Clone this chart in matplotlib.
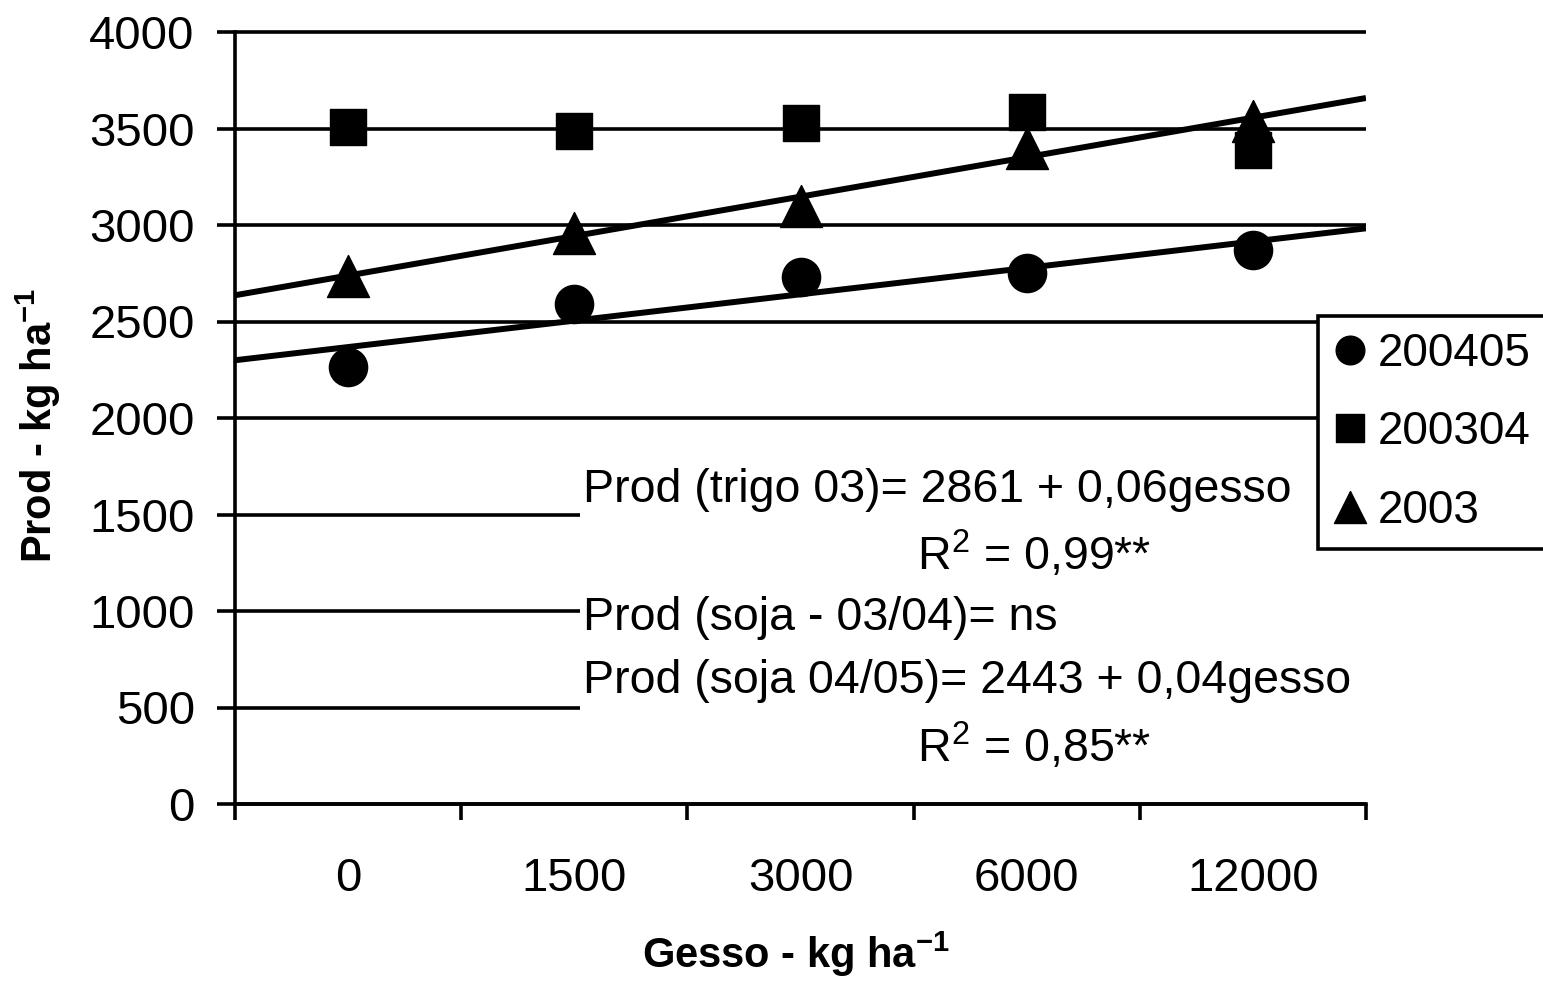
import numpy as np
import matplotlib
matplotlib.use("Agg")
import matplotlib.pyplot as plt
from matplotlib.markers import MarkerStyle
from matplotlib.patches import Rectangle

plt.rcParams["font.family"] = ["Liberation Sans", "DejaVu Sans"]
plt.rcParams["mathtext.default"] = "regular"

# gesso doses (categorical axis)
doses = ["0", "1500", "3000", "6000", "12000"]

# yield, kg/ha
soja_0405 = [2266, 2591, 2728, 2750, 2870]   # 200405
soja_0304 = [3507, 3486, 3527, 3587, 3387]   # 200304
trigo_03 = [2737, 2960, 3100, 3398, 3540]    # 2003
series_labels = ["200405", "200304", "2003"]

y_ticks = [0, 500, 1000, 1500, 2000, 2500, 3000, 3500, 4000]

eq_lines = [
    "Prod (trigo 03)= 2861 + 0,06gesso",
    "R$^2$ = 0,99**",
    "Prod (soja - 03/04)= ns",
    "Prod (soja 04/05)= 2443 + 0,04gesso",
    "R$^2$ = 0,85**",
]

W, H = 1543, 982


def px(x, y):
    return x / W, 1 - y / H


fig = plt.figure(figsize=(W / 100, H / 100), dpi=100)
ax = fig.add_axes([235 / W, 1 - 804 / H, 1131 / W, 772 / H])

lw = 2.6
x = np.arange(1, len(doses) + 1)

ax.set_xlim(0.5, len(doses) + 0.5)
ax.set_ylim(0, 4000)
ax.set_yticks(y_ticks)
ax.set_xticks(x)
ax.set_xticklabels(doses)
ax.set_xticks(np.arange(0.5, len(doses) + 1), minor=True)

ax.set_axisbelow(True)
ax.yaxis.grid(True, color="black", linewidth=lw)
for gl in ax.get_ygridlines():
    gl.set_clip_on(False)
    gl.set_solid_capstyle("butt")

for side in ("top", "right"):
    ax.spines[side].set_visible(False)
for side in ("left", "bottom"):
    ax.spines[side].set_linewidth(lw)
    ax.spines[side].set_zorder(2.5)

ax.tick_params(axis="x", which="major", length=0, pad=38, labelsize=34)
ax.tick_params(axis="x", which="minor", length=11.5, width=lw, direction="out")
ax.tick_params(axis="y", length=13, width=lw, pad=16, labelsize=34)

# white box behind the equations hides the lower gridlines
ax.add_patch(Rectangle((0.305, 0.005), 0.72, 0.447, transform=ax.transAxes,
                       facecolor="white", edgecolor="none", zorder=0.8,
                       clip_on=False))

series = [
    (soja_0405, MarkerStyle("o"), 27.5, True),
    (soja_0304, MarkerStyle("s", joinstyle="round"), 26.5, False),
    (trigo_03, MarkerStyle("^", joinstyle="round"), 30, True),
]
handles = []
xs = np.array([0.5, len(doses) + 0.5])
for vals, marker, ms, trend in series:
    h, = ax.plot(x, vals, linestyle="none", marker=marker, markersize=ms,
                 color="black", markeredgewidth=1, zorder=3)
    handles.append(h)
    if trend:
        coef = np.polyfit(x, vals, 1)
        ax.plot(xs, np.polyval(coef, xs), color="black", linewidth=4.3,
                solid_capstyle="butt", zorder=2.8)

# regression equations
eq_pos = [(583, 502), (917, 570), (583, 630), (583, 693), (917, 762)]
for txt, (ex, ey) in zip(eq_lines, eq_pos):
    fig.text(*px(ex, ey), txt, fontsize=33.5, ha="left", va="baseline")

leg = fig.legend(handles, series_labels, loc="upper left",
                 bbox_to_anchor=px(1318, 316), bbox_transform=fig.transFigure,
                 frameon=True, fancybox=False, edgecolor="black", framealpha=1,
                 fontsize=33, markerscale=0.75, handlelength=0.7,
                 handletextpad=0.25, labelspacing=0.75, borderpad=0.35,
                 borderaxespad=0)
leg.get_frame().set_linewidth(lw)

fig.text(*px(796, 968), "Gesso - kg ha$^{-1}$", fontsize=30, fontweight="bold",
         ha="center", va="baseline")
fig.text(*px(52, 425), "Prod - kg ha$^{-1}$", fontsize=30, fontweight="bold",
         rotation=90, rotation_mode="anchor", ha="center", va="baseline")

fig.savefig("out.png", dpi=100, facecolor="white")
